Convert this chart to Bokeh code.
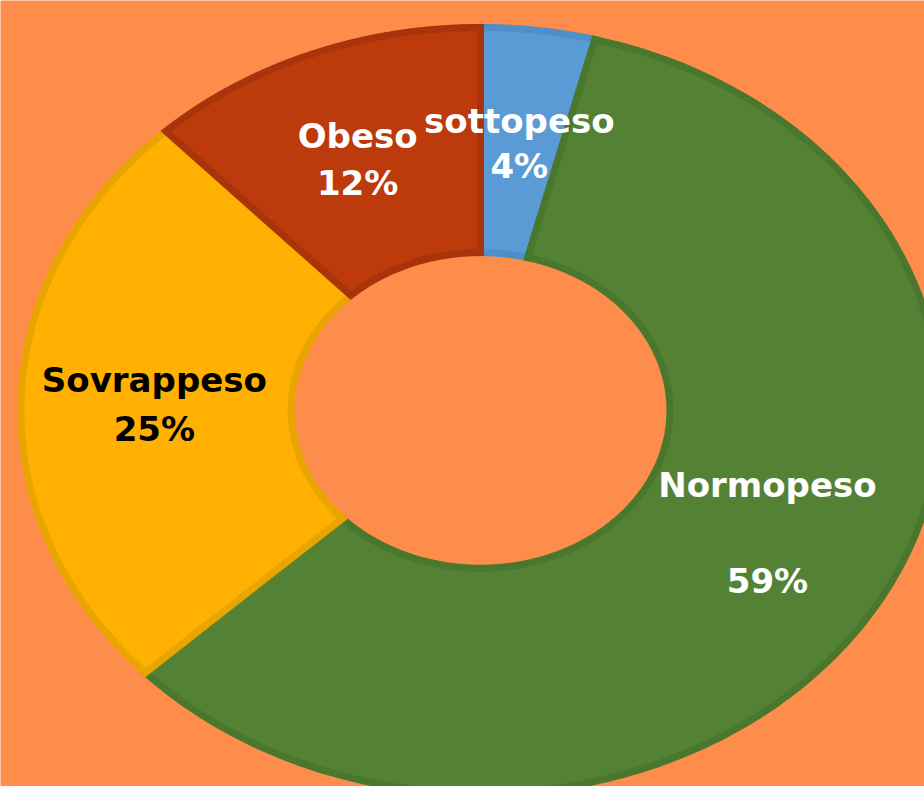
import numpy as np
from bokeh.plotting import figure
from bokeh.models import Range1d, ColumnDataSource
from bokeh.core.properties import value
from bokeh.embed import file_html
from bokeh.resources import INLINE

# ---- data ----
categories = ["sottopeso", "Normopeso", "Sovrappeso", "Obeso"]
values = [4, 59, 25, 12]
fill_colors = ["#5B9BD5", "#548235", "#FFB000", "#BC3A0C"]
line_colors = ["#4F8FC9", "#4A772E", "#E8A500", "#A9340B"]
label_colors = ["white", "white", "black", "white"]
# label positions (data units, ring outer radius = 1)
name_x = [0.084, 0.621, -0.706, -0.266]
name_y = [0.753, -0.195, 0.078, 0.714]
pct_y = [0.636, -0.442, -0.047, 0.592]

bg = "#FE8D4B"
outer_r = 0.995
inner_r = 0.41

p = figure(width=924, height=786, output_backend="svg", toolbar_location=None,
           x_range=Range1d(-1.039, 0.961), y_range=Range1d(-0.977, 1.065),
           min_border=0, background_fill_color=bg, border_fill_color=bg)
p.axis.visible = False
p.grid.visible = False
p.outline_line_color = None

total = float(sum(values))
fr = np.cumsum([0] + values) / total
xs, ys = [], []
for i in range(len(values)):
    a0, a1 = 2 * np.pi * fr[i], 2 * np.pi * fr[i + 1]
    t = np.linspace(a0, a1, 200)
    ox, oy = outer_r * np.sin(t), outer_r * np.cos(t)
    ix, iy = inner_r * np.sin(t[::-1]), inner_r * np.cos(t[::-1])
    xs.append(list(np.concatenate([ox, ix])))
    ys.append(list(np.concatenate([oy, iy])))

src = ColumnDataSource(dict(xs=xs, ys=ys, fill=fill_colors, line=line_colors))
p.patches("xs", "ys", source=src, fill_color="fill", line_color="line",
          line_width=7, line_join="miter")

lab = ColumnDataSource(dict(x=name_x, y=name_y, t=categories, c=label_colors))
p.text("x", "y", text="t", source=lab, text_color="c", text_align="center",
       text_baseline="middle", text_font=value("DejaVu Sans"),
       text_font_style="bold", text_font_size="34px")
pct = ColumnDataSource(dict(x=name_x, y=pct_y, t=[f"{v}%" for v in values], c=label_colors))
p.text("x", "y", text="t", source=pct, text_color="c", text_align="center",
       text_baseline="middle", text_font=value("DejaVu Sans"),
       text_font_style="bold", text_font_size="34px")

open("out.html", "w").write(file_html(p, INLINE))
